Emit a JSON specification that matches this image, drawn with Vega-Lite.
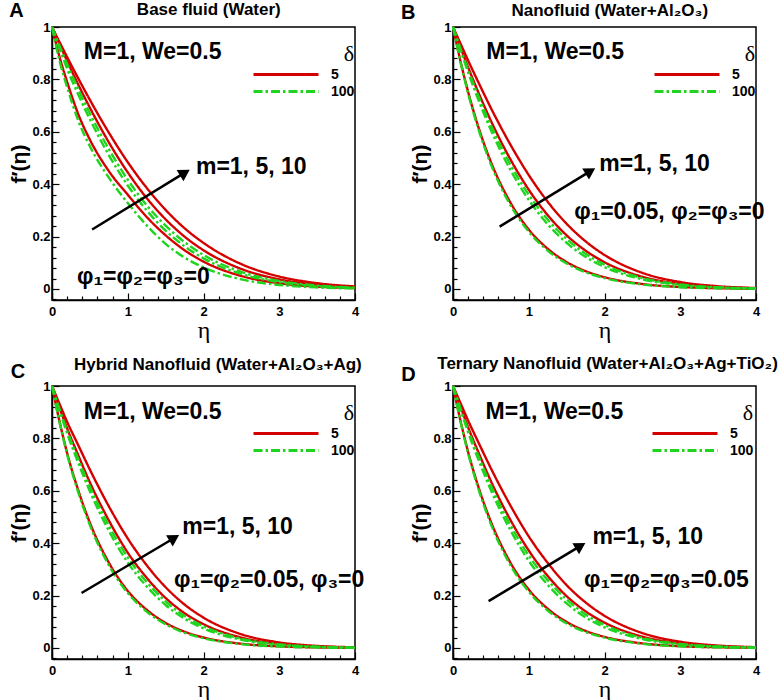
{
"$schema": "https://vega.github.io/schema/vega-lite/v6.json",
"autosize": {"type": "pad"},
"padding": {"left": 8, "top": 0, "right": 0, "bottom": 0},
"background": "white",
"config": {
  "font": "Liberation Sans",
  "view": {"stroke": "black", "strokeWidth": 1.5},
  "axis": {"labelFont": "Liberation Sans", "labelFontSize": 13, "labelFontWeight": "bold", "labelColor": "black", "domainColor": "black", "domainWidth": 1.5, "tickColor": "black", "tickWidth": 1.2, "grid": false, "titleColor": "black", "labelFlush": false},
  "text": {"font": "Liberation Sans", "fontWeight": "bold", "fontSize": 23, "color": "black"}
},
"datasets": {
"A": [
{"m":10,"delta":5,"eta":0,"f":1},{"m":10,"delta":5,"eta":0.1,"f":0.942},{"m":10,"delta":5,"eta":0.2,"f":0.885},{"m":10,"delta":5,"eta":0.35,"f":0.802},{"m":10,"delta":5,"eta":0.5,"f":0.722},{"m":10,"delta":5,"eta":0.75,"f":0.597},{"m":10,"delta":5,"eta":1,"f":0.484},{"m":10,"delta":5,"eta":1.25,"f":0.386},{"m":10,"delta":5,"eta":1.5,"f":0.302},{"m":10,"delta":5,"eta":1.75,"f":0.232},{"m":10,"delta":5,"eta":2,"f":0.176},{"m":10,"delta":5,"eta":2.5,"f":0.095},{"m":10,"delta":5,"eta":3,"f":0.0476},{"m":10,"delta":5,"eta":3.5,"f":0.0222},{"m":10,"delta":5,"eta":4,"f":0.0097},
{"m":5,"delta":5,"eta":0,"f":1},{"m":5,"delta":5,"eta":0.1,"f":0.934},{"m":5,"delta":5,"eta":0.2,"f":0.87},{"m":5,"delta":5,"eta":0.35,"f":0.778},{"m":5,"delta":5,"eta":0.5,"f":0.692},{"m":5,"delta":5,"eta":0.75,"f":0.56},{"m":5,"delta":5,"eta":1,"f":0.445},{"m":5,"delta":5,"eta":1.25,"f":0.347},{"m":5,"delta":5,"eta":1.5,"f":0.266},{"m":5,"delta":5,"eta":1.75,"f":0.2},{"m":5,"delta":5,"eta":2,"f":0.148},{"m":5,"delta":5,"eta":2.5,"f":0.0766},{"m":5,"delta":5,"eta":3,"f":0.0369},{"m":5,"delta":5,"eta":3.5,"f":0.0165},{"m":5,"delta":5,"eta":4,"f":0.0069},
{"m":1,"delta":5,"eta":0,"f":1},{"m":1,"delta":5,"eta":0.1,"f":0.885},{"m":1,"delta":5,"eta":0.2,"f":0.79},{"m":1,"delta":5,"eta":0.35,"f":0.665},{"m":1,"delta":5,"eta":0.5,"f":0.57},{"m":1,"delta":5,"eta":0.75,"f":0.45},{"m":1,"delta":5,"eta":1,"f":0.36},{"m":1,"delta":5,"eta":1.25,"f":0.275},{"m":1,"delta":5,"eta":1.5,"f":0.205},{"m":1,"delta":5,"eta":1.75,"f":0.148},{"m":1,"delta":5,"eta":2,"f":0.1046},{"m":1,"delta":5,"eta":2.5,"f":0.0496},{"m":1,"delta":5,"eta":3,"f":0.0219},{"m":1,"delta":5,"eta":3.5,"f":0.009},{"m":1,"delta":5,"eta":4,"f":0.0034},
{"m":10,"delta":100,"eta":0,"f":1},{"m":10,"delta":100,"eta":0.1,"f":0.928},{"m":10,"delta":100,"eta":0.2,"f":0.859},{"m":10,"delta":100,"eta":0.35,"f":0.761},{"m":10,"delta":100,"eta":0.5,"f":0.67},{"m":10,"delta":100,"eta":0.75,"f":0.534},{"m":10,"delta":100,"eta":1,"f":0.417},{"m":10,"delta":100,"eta":1.25,"f":0.32},{"m":10,"delta":100,"eta":1.5,"f":0.242},{"m":10,"delta":100,"eta":1.75,"f":0.179},{"m":10,"delta":100,"eta":2,"f":0.13},{"m":10,"delta":100,"eta":2.5,"f":0.0653},{"m":10,"delta":100,"eta":3,"f":0.0304},{"m":10,"delta":100,"eta":3.5,"f":0.0132},{"m":10,"delta":100,"eta":4,"f":0.0053},
{"m":5,"delta":100,"eta":0,"f":1},{"m":5,"delta":100,"eta":0.1,"f":0.918},{"m":5,"delta":100,"eta":0.2,"f":0.84},{"m":5,"delta":100,"eta":0.35,"f":0.74},{"m":5,"delta":100,"eta":0.5,"f":0.648},{"m":5,"delta":100,"eta":0.75,"f":0.511},{"m":5,"delta":100,"eta":1,"f":0.395},{"m":5,"delta":100,"eta":1.25,"f":0.3},{"m":5,"delta":100,"eta":1.5,"f":0.223},{"m":5,"delta":100,"eta":1.75,"f":0.163},{"m":5,"delta":100,"eta":2,"f":0.117},{"m":5,"delta":100,"eta":2.5,"f":0.0572},{"m":5,"delta":100,"eta":3,"f":0.026},{"m":5,"delta":100,"eta":3.5,"f":0.011},{"m":5,"delta":100,"eta":4,"f":0.0043},
{"m":1,"delta":100,"eta":0,"f":1},{"m":1,"delta":100,"eta":0.1,"f":0.87},{"m":1,"delta":100,"eta":0.2,"f":0.77},{"m":1,"delta":100,"eta":0.35,"f":0.64},{"m":1,"delta":100,"eta":0.5,"f":0.545},{"m":1,"delta":100,"eta":0.75,"f":0.425},{"m":1,"delta":100,"eta":1,"f":0.328},{"m":1,"delta":100,"eta":1.25,"f":0.243},{"m":1,"delta":100,"eta":1.5,"f":0.172},{"m":1,"delta":100,"eta":1.75,"f":0.12},{"m":1,"delta":100,"eta":2,"f":0.0824},{"m":1,"delta":100,"eta":2.5,"f":0.0368},{"m":1,"delta":100,"eta":3,"f":0.0153},{"m":1,"delta":100,"eta":3.5,"f":0.0059},{"m":1,"delta":100,"eta":4,"f":0.0021}
],
"B": [
{"m":10,"delta":5,"eta":0,"f":1},{"m":10,"delta":5,"eta":0.1,"f":0.936},{"m":10,"delta":5,"eta":0.2,"f":0.872},{"m":10,"delta":5,"eta":0.35,"f":0.78},{"m":10,"delta":5,"eta":0.5,"f":0.691},{"m":10,"delta":5,"eta":0.75,"f":0.555},{"m":10,"delta":5,"eta":1,"f":0.435},{"m":10,"delta":5,"eta":1.25,"f":0.333},{"m":10,"delta":5,"eta":1.5,"f":0.249},{"m":10,"delta":5,"eta":1.75,"f":0.182},{"m":10,"delta":5,"eta":2,"f":0.13},{"m":10,"delta":5,"eta":2.5,"f":0.0616},{"m":10,"delta":5,"eta":3,"f":0.0266},{"m":10,"delta":5,"eta":3.5,"f":0.0105},{"m":10,"delta":5,"eta":4,"f":0.0037},
{"m":5,"delta":5,"eta":0,"f":1},{"m":5,"delta":5,"eta":0.1,"f":0.922},{"m":5,"delta":5,"eta":0.2,"f":0.846},{"m":5,"delta":5,"eta":0.35,"f":0.74},{"m":5,"delta":5,"eta":0.5,"f":0.642},{"m":5,"delta":5,"eta":0.75,"f":0.499},{"m":5,"delta":5,"eta":1,"f":0.379},{"m":5,"delta":5,"eta":1.25,"f":0.282},{"m":5,"delta":5,"eta":1.5,"f":0.205},{"m":5,"delta":5,"eta":1.75,"f":0.1465},{"m":5,"delta":5,"eta":2,"f":0.1023},{"m":5,"delta":5,"eta":2.5,"f":0.0468},{"m":5,"delta":5,"eta":3,"f":0.0196},{"m":5,"delta":5,"eta":3.5,"f":0.0076},{"m":5,"delta":5,"eta":4,"f":0.0027},
{"m":1,"delta":5,"eta":0,"f":1},{"m":1,"delta":5,"eta":0.1,"f":0.868},{"m":1,"delta":5,"eta":0.2,"f":0.752},{"m":1,"delta":5,"eta":0.35,"f":0.605},{"m":1,"delta":5,"eta":0.5,"f":0.485},{"m":1,"delta":5,"eta":0.75,"f":0.334},{"m":1,"delta":5,"eta":1,"f":0.227},{"m":1,"delta":5,"eta":1.25,"f":0.1536},{"m":1,"delta":5,"eta":1.5,"f":0.1029},{"m":1,"delta":5,"eta":1.75,"f":0.0683},{"m":1,"delta":5,"eta":2,"f":0.045},{"m":1,"delta":5,"eta":2.5,"f":0.019},{"m":1,"delta":5,"eta":3,"f":0.0077},{"m":1,"delta":5,"eta":3.5,"f":0.003},{"m":1,"delta":5,"eta":4,"f":0.0012},
{"m":10,"delta":100,"eta":0,"f":1},{"m":10,"delta":100,"eta":0.1,"f":0.916},{"m":10,"delta":100,"eta":0.2,"f":0.837},{"m":10,"delta":100,"eta":0.35,"f":0.726},{"m":10,"delta":100,"eta":0.5,"f":0.625},{"m":10,"delta":100,"eta":0.75,"f":0.479},{"m":10,"delta":100,"eta":1,"f":0.36},{"m":10,"delta":100,"eta":1.25,"f":0.265},{"m":10,"delta":100,"eta":1.5,"f":0.191},{"m":10,"delta":100,"eta":1.75,"f":0.1346},{"m":10,"delta":100,"eta":2,"f":0.0931},{"m":10,"delta":100,"eta":2.5,"f":0.0418},{"m":10,"delta":100,"eta":3,"f":0.0173},{"m":10,"delta":100,"eta":3.5,"f":0.0066},{"m":10,"delta":100,"eta":4,"f":0.0023},
{"m":5,"delta":100,"eta":0,"f":1},{"m":5,"delta":100,"eta":0.1,"f":0.911},{"m":5,"delta":100,"eta":0.2,"f":0.827},{"m":5,"delta":100,"eta":0.35,"f":0.711},{"m":5,"delta":100,"eta":0.5,"f":0.607},{"m":5,"delta":100,"eta":0.75,"f":0.459},{"m":5,"delta":100,"eta":1,"f":0.34},{"m":5,"delta":100,"eta":1.25,"f":0.247},{"m":5,"delta":100,"eta":1.5,"f":0.176},{"m":5,"delta":100,"eta":1.75,"f":0.1227},{"m":5,"delta":100,"eta":2,"f":0.0839},{"m":5,"delta":100,"eta":2.5,"f":0.037},{"m":5,"delta":100,"eta":3,"f":0.015},{"m":5,"delta":100,"eta":3.5,"f":0.0056},{"m":5,"delta":100,"eta":4,"f":0.002},
{"m":1,"delta":100,"eta":0,"f":1},{"m":1,"delta":100,"eta":0.1,"f":0.865},{"m":1,"delta":100,"eta":0.2,"f":0.746},{"m":1,"delta":100,"eta":0.35,"f":0.597},{"m":1,"delta":100,"eta":0.5,"f":0.476},{"m":1,"delta":100,"eta":0.75,"f":0.324},{"m":1,"delta":100,"eta":1,"f":0.219},{"m":1,"delta":100,"eta":1.25,"f":0.1465},{"m":1,"delta":100,"eta":1.5,"f":0.0972},{"m":1,"delta":100,"eta":1.75,"f":0.0639},{"m":1,"delta":100,"eta":2,"f":0.0417},{"m":1,"delta":100,"eta":2.5,"f":0.0173},{"m":1,"delta":100,"eta":3,"f":0.0069},{"m":1,"delta":100,"eta":3.5,"f":0.0027},{"m":1,"delta":100,"eta":4,"f":0.001}
],
"C": [
{"m":10,"delta":5,"eta":0,"f":1},{"m":10,"delta":5,"eta":0.1,"f":0.931},{"m":10,"delta":5,"eta":0.2,"f":0.863},{"m":10,"delta":5,"eta":0.35,"f":0.772},{"m":10,"delta":5,"eta":0.5,"f":0.681},{"m":10,"delta":5,"eta":0.75,"f":0.541},{"m":10,"delta":5,"eta":1,"f":0.418},{"m":10,"delta":5,"eta":1.25,"f":0.316},{"m":10,"delta":5,"eta":1.5,"f":0.232},{"m":10,"delta":5,"eta":1.75,"f":0.166},{"m":10,"delta":5,"eta":2,"f":0.116},{"m":10,"delta":5,"eta":2.5,"f":0.0524},{"m":10,"delta":5,"eta":3,"f":0.0213},{"m":10,"delta":5,"eta":3.5,"f":0.0079},{"m":10,"delta":5,"eta":4,"f":0.0026},
{"m":5,"delta":5,"eta":0,"f":1},{"m":5,"delta":5,"eta":0.1,"f":0.917},{"m":5,"delta":5,"eta":0.2,"f":0.838},{"m":5,"delta":5,"eta":0.35,"f":0.733},{"m":5,"delta":5,"eta":0.5,"f":0.632},{"m":5,"delta":5,"eta":0.75,"f":0.487},{"m":5,"delta":5,"eta":1,"f":0.364},{"m":5,"delta":5,"eta":1.25,"f":0.268},{"m":5,"delta":5,"eta":1.5,"f":0.191},{"m":5,"delta":5,"eta":1.75,"f":0.133},{"m":5,"delta":5,"eta":2,"f":0.091},{"m":5,"delta":5,"eta":2.5,"f":0.0398},{"m":5,"delta":5,"eta":3,"f":0.0157},{"m":5,"delta":5,"eta":3.5,"f":0.0057},{"m":5,"delta":5,"eta":4,"f":0.0019},
{"m":1,"delta":5,"eta":0,"f":1},{"m":1,"delta":5,"eta":0.1,"f":0.864},{"m":1,"delta":5,"eta":0.2,"f":0.744},{"m":1,"delta":5,"eta":0.35,"f":0.599},{"m":1,"delta":5,"eta":0.5,"f":0.478},{"m":1,"delta":5,"eta":0.75,"f":0.326},{"m":1,"delta":5,"eta":1,"f":0.218},{"m":1,"delta":5,"eta":1.25,"f":0.146},{"m":1,"delta":5,"eta":1.5,"f":0.0957},{"m":1,"delta":5,"eta":1.75,"f":0.0622},{"m":1,"delta":5,"eta":2,"f":0.0401},{"m":1,"delta":5,"eta":2.5,"f":0.0162},{"m":1,"delta":5,"eta":3,"f":0.0062},{"m":1,"delta":5,"eta":3.5,"f":0.0023},{"m":1,"delta":5,"eta":4,"f":0.0008},
{"m":10,"delta":100,"eta":0,"f":1},{"m":10,"delta":100,"eta":0.1,"f":0.911},{"m":10,"delta":100,"eta":0.2,"f":0.829},{"m":10,"delta":100,"eta":0.35,"f":0.719},{"m":10,"delta":100,"eta":0.5,"f":0.616},{"m":10,"delta":100,"eta":0.75,"f":0.467},{"m":10,"delta":100,"eta":1,"f":0.346},{"m":10,"delta":100,"eta":1.25,"f":0.252},{"m":10,"delta":100,"eta":1.5,"f":0.178},{"m":10,"delta":100,"eta":1.75,"f":0.122},{"m":10,"delta":100,"eta":2,"f":0.083},{"m":10,"delta":100,"eta":2.5,"f":0.0355},{"m":10,"delta":100,"eta":3,"f":0.0138},{"m":10,"delta":100,"eta":3.5,"f":0.005},{"m":10,"delta":100,"eta":4,"f":0.0016},
{"m":5,"delta":100,"eta":0,"f":1},{"m":5,"delta":100,"eta":0.1,"f":0.906},{"m":5,"delta":100,"eta":0.2,"f":0.819},{"m":5,"delta":100,"eta":0.35,"f":0.704},{"m":5,"delta":100,"eta":0.5,"f":0.598},{"m":5,"delta":100,"eta":0.75,"f":0.448},{"m":5,"delta":100,"eta":1,"f":0.326},{"m":5,"delta":100,"eta":1.25,"f":0.235},{"m":5,"delta":100,"eta":1.5,"f":0.164},{"m":5,"delta":100,"eta":1.75,"f":0.112},{"m":5,"delta":100,"eta":2,"f":0.075},{"m":5,"delta":100,"eta":2.5,"f":0.0315},{"m":5,"delta":100,"eta":3,"f":0.012},{"m":5,"delta":100,"eta":3.5,"f":0.0042},{"m":5,"delta":100,"eta":4,"f":0.0014},
{"m":1,"delta":100,"eta":0,"f":1},{"m":1,"delta":100,"eta":0.1,"f":0.861},{"m":1,"delta":100,"eta":0.2,"f":0.739},{"m":1,"delta":100,"eta":0.35,"f":0.591},{"m":1,"delta":100,"eta":0.5,"f":0.469},{"m":1,"delta":100,"eta":0.75,"f":0.316},{"m":1,"delta":100,"eta":1,"f":0.21},{"m":1,"delta":100,"eta":1.25,"f":0.139},{"m":1,"delta":100,"eta":1.5,"f":0.0904},{"m":1,"delta":100,"eta":1.75,"f":0.0581},{"m":1,"delta":100,"eta":2,"f":0.0371},{"m":1,"delta":100,"eta":2.5,"f":0.0147},{"m":1,"delta":100,"eta":3,"f":0.0055},{"m":1,"delta":100,"eta":3.5,"f":0.002},{"m":1,"delta":100,"eta":4,"f":0.0007}
],
"D": [
{"m":10,"delta":5,"eta":0,"f":1},{"m":10,"delta":5,"eta":0.1,"f":0.934},{"m":10,"delta":5,"eta":0.2,"f":0.868},{"m":10,"delta":5,"eta":0.35,"f":0.776},{"m":10,"delta":5,"eta":0.5,"f":0.686},{"m":10,"delta":5,"eta":0.75,"f":0.548},{"m":10,"delta":5,"eta":1,"f":0.426},{"m":10,"delta":5,"eta":1.25,"f":0.325},{"m":10,"delta":5,"eta":1.5,"f":0.24},{"m":10,"delta":5,"eta":1.75,"f":0.174},{"m":10,"delta":5,"eta":2,"f":0.123},{"m":10,"delta":5,"eta":2.5,"f":0.057},{"m":10,"delta":5,"eta":3,"f":0.024},{"m":10,"delta":5,"eta":3.5,"f":0.0092},{"m":10,"delta":5,"eta":4,"f":0.0031},
{"m":5,"delta":5,"eta":0,"f":1},{"m":5,"delta":5,"eta":0.1,"f":0.92},{"m":5,"delta":5,"eta":0.2,"f":0.842},{"m":5,"delta":5,"eta":0.35,"f":0.737},{"m":5,"delta":5,"eta":0.5,"f":0.637},{"m":5,"delta":5,"eta":0.75,"f":0.493},{"m":5,"delta":5,"eta":1,"f":0.372},{"m":5,"delta":5,"eta":1.25,"f":0.275},{"m":5,"delta":5,"eta":1.5,"f":0.198},{"m":5,"delta":5,"eta":1.75,"f":0.14},{"m":5,"delta":5,"eta":2,"f":0.097},{"m":5,"delta":5,"eta":2.5,"f":0.0433},{"m":5,"delta":5,"eta":3,"f":0.0177},{"m":5,"delta":5,"eta":3.5,"f":0.0066},{"m":5,"delta":5,"eta":4,"f":0.0023},
{"m":1,"delta":5,"eta":0,"f":1},{"m":1,"delta":5,"eta":0.1,"f":0.866},{"m":1,"delta":5,"eta":0.2,"f":0.748},{"m":1,"delta":5,"eta":0.35,"f":0.602},{"m":1,"delta":5,"eta":0.5,"f":0.482},{"m":1,"delta":5,"eta":0.75,"f":0.33},{"m":1,"delta":5,"eta":1,"f":0.223},{"m":1,"delta":5,"eta":1.25,"f":0.15},{"m":1,"delta":5,"eta":1.5,"f":0.0993},{"m":1,"delta":5,"eta":1.75,"f":0.0653},{"m":1,"delta":5,"eta":2,"f":0.0426},{"m":1,"delta":5,"eta":2.5,"f":0.0176},{"m":1,"delta":5,"eta":3,"f":0.007},{"m":1,"delta":5,"eta":3.5,"f":0.0027},{"m":1,"delta":5,"eta":4,"f":0.001},
{"m":10,"delta":100,"eta":0,"f":1},{"m":10,"delta":100,"eta":0.1,"f":0.914},{"m":10,"delta":100,"eta":0.2,"f":0.833},{"m":10,"delta":100,"eta":0.35,"f":0.723},{"m":10,"delta":100,"eta":0.5,"f":0.621},{"m":10,"delta":100,"eta":0.75,"f":0.473},{"m":10,"delta":100,"eta":1,"f":0.353},{"m":10,"delta":100,"eta":1.25,"f":0.259},{"m":10,"delta":100,"eta":1.5,"f":0.185},{"m":10,"delta":100,"eta":1.75,"f":0.128},{"m":10,"delta":100,"eta":2,"f":0.088},{"m":10,"delta":100,"eta":2.5,"f":0.0387},{"m":10,"delta":100,"eta":3,"f":0.0156},{"m":10,"delta":100,"eta":3.5,"f":0.0058},{"m":10,"delta":100,"eta":4,"f":0.002},
{"m":5,"delta":100,"eta":0,"f":1},{"m":5,"delta":100,"eta":0.1,"f":0.909},{"m":5,"delta":100,"eta":0.2,"f":0.823},{"m":5,"delta":100,"eta":0.35,"f":0.708},{"m":5,"delta":100,"eta":0.5,"f":0.603},{"m":5,"delta":100,"eta":0.75,"f":0.454},{"m":5,"delta":100,"eta":1,"f":0.333},{"m":5,"delta":100,"eta":1.25,"f":0.241},{"m":5,"delta":100,"eta":1.5,"f":0.17},{"m":5,"delta":100,"eta":1.75,"f":0.117},{"m":5,"delta":100,"eta":2,"f":0.079},{"m":5,"delta":100,"eta":2.5,"f":0.0343},{"m":5,"delta":100,"eta":3,"f":0.0135},{"m":5,"delta":100,"eta":3.5,"f":0.0049},{"m":5,"delta":100,"eta":4,"f":0.0017},
{"m":1,"delta":100,"eta":0,"f":1},{"m":1,"delta":100,"eta":0.1,"f":0.863},{"m":1,"delta":100,"eta":0.2,"f":0.743},{"m":1,"delta":100,"eta":0.35,"f":0.594},{"m":1,"delta":100,"eta":0.5,"f":0.473},{"m":1,"delta":100,"eta":0.75,"f":0.32},{"m":1,"delta":100,"eta":1,"f":0.215},{"m":1,"delta":100,"eta":1.25,"f":0.143},{"m":1,"delta":100,"eta":1.5,"f":0.0938},{"m":1,"delta":100,"eta":1.75,"f":0.061},{"m":1,"delta":100,"eta":2,"f":0.0394},{"m":1,"delta":100,"eta":2.5,"f":0.016},{"m":1,"delta":100,"eta":3,"f":0.0062},{"m":1,"delta":100,"eta":3.5,"f":0.0024},{"m":1,"delta":100,"eta":4,"f":0.0009}
]
},
"columns": 2,
"spacing": {"row": 86, "column": 98},
"bounds": "flush",
"resolve": {"scale": {"color": "independent", "strokeDash": "independent"}},
"concat": [
{"width": 303, "height": 273, "data": {"name": "A"},
 "resolve": {"axis": {"x": "independent", "y": "independent"}},
 "layer": [
  {"transform": [{"filter": "datum.delta == 5"}], "mark": {"type": "line", "strokeWidth": 2.4, "interpolate": "monotone"},
   "encoding": {
    "x": {"field": "eta", "type": "quantitative", "scale": {"domain": [0, 4], "nice": false, "zero": false}, "axis": {"orient": "bottom", "title": "η", "values": [0,1,2,3,4], "format": "d", "tickSize": -7, "labelPadding": 12, "titleFont": "Liberation Serif", "titleFontSize": 24, "titleFontWeight": "normal", "titlePadding": 0}},
    "y": {"field": "f", "type": "quantitative", "scale": {"domain": [-0.042, 1], "nice": false, "zero": false}, "axis": {"orient": "left", "title": "f′(η)", "values": [0,0.2,0.4,0.6,0.8,1], "format": ".1~f", "tickSize": -7, "labelPadding": 9, "titleFont": "Liberation Sans", "titleFontSize": 21, "titleFontWeight": "bold", "titlePadding": 2}},
    "color": {"field": "delta", "type": "nominal", "scale": {"domain": [5, 100], "range": ["#d40000", "#1ed41e"]}, "legend": {"title": "δ", "orient": "none", "legendX": 200, "legendY": 17, "symbolType": "stroke", "symbolSize": 4225, "symbolStrokeWidth": 3, "clipHeight": 17, "rowPadding": 0, "labelOffset": 11, "labelFont": "Liberation Sans", "labelFontSize": 14, "labelFontWeight": "bold", "labelColor": "black", "titleFont": "Liberation Serif", "titleFontSize": 22, "titleFontWeight": "normal", "titleColor": "black", "titleAnchor": "end", "titlePadding": 0, "padding": 0}},
    "strokeDash": {"field": "delta", "type": "nominal", "scale": {"domain": [5, 100], "range": [[1, 0], [9, 3, 2.5, 3]]}, "legend": {"title": "δ", "orient": "none", "legendX": 200, "legendY": 17, "symbolType": "stroke", "symbolSize": 4225, "symbolStrokeWidth": 3, "clipHeight": 17, "rowPadding": 0, "labelOffset": 11, "labelFont": "Liberation Sans", "labelFontSize": 14, "labelFontWeight": "bold", "labelColor": "black", "titleFont": "Liberation Serif", "titleFontSize": 22, "titleFontWeight": "normal", "titleColor": "black", "titleAnchor": "end", "titlePadding": 0, "padding": 0}},
    "detail": {"field": "m", "type": "nominal"}
   }},
  {"transform": [{"filter": "datum.delta == 100"}], "mark": {"type": "line", "strokeWidth": 2.4, "interpolate": "monotone"},
   "encoding": {
    "x": {"field": "eta", "type": "quantitative", "axis": {"orient": "bottom", "title": null, "labels": false, "domain": false, "values": [0.2,0.4,0.6,0.8,1.2,1.4,1.6,1.8,2.2,2.4,2.6,2.8,3.2,3.4,3.6,3.8], "tickSize": -4}},
    "y": {"field": "f", "type": "quantitative", "axis": {"orient": "left", "title": null, "labels": false, "domain": false, "values": [-0.04,0.04,0.08,0.12,0.16,0.24,0.28,0.32,0.36,0.44,0.48,0.52,0.56,0.64,0.68,0.72,0.76,0.84,0.88,0.92,0.96], "tickSize": -4}},
    "color": {"field": "delta", "type": "nominal"},
    "strokeDash": {"field": "delta", "type": "nominal"},
    "detail": {"field": "m", "type": "nominal"}
   }},
  {"data": {"values": [{}]}, "mark": {"type": "rule", "strokeWidth": 2.5, "color": "black"}, "encoding": {"x": {"datum": 0.53, "axis": null}, "y": {"datum": 0.227, "axis": null}, "x2": {"datum": 1.754}, "y2": {"datum": 0.444}}},
  {"data": {"values": [{}]}, "mark": {"type": "point", "shape": "triangle-right", "filled": true, "color": "black", "opacity": 1, "size": 170, "angle": 328.5}, "encoding": {"x": {"datum": 1.754, "axis": null}, "y": {"datum": 0.444, "axis": null}}},
  {"data": {"values": [{}]}, "mark": {"type": "text", "text": "M=1, We=0.5", "align": "left", "baseline": "middle"}, "encoding": {"x": {"datum": 0.42, "axis": null}, "y": {"datum": 0.905, "axis": null}}},
  {"data": {"values": [{}]}, "mark": {"type": "text", "text": "m=1, 5, 10", "align": "left", "baseline": "middle"}, "encoding": {"x": {"datum": 1.9, "axis": null}, "y": {"datum": 0.466, "axis": null}}},
  {"data": {"values": [{}]}, "mark": {"type": "text", "text": "φ₁=φ₂=φ₃=0", "align": "left", "baseline": "middle"}, "encoding": {"x": {"datum": 0.33, "axis": null}, "y": {"datum": 0.046, "axis": null}}},
  {"data": {"values": [{}]}, "mark": {"type": "text", "text": "A", "fontSize": 20, "align": "center", "baseline": "middle"}, "encoding": {"x": {"datum": -0.469, "axis": null}, "y": {"datum": 1.061, "axis": null}}},
  {"data": {"values": [{}]}, "mark": {"type": "text", "text": "Base fluid (Water)", "fontSize": 17, "align": "center", "baseline": "middle"}, "encoding": {"x": {"datum": 2.07, "axis": null}, "y": {"datum": 1.065, "axis": null}}}
 ]},
{"width": 303, "height": 273, "data": {"name": "B"},
 "resolve": {"axis": {"x": "independent", "y": "independent"}},
 "layer": [
  {"transform": [{"filter": "datum.delta == 5"}], "mark": {"type": "line", "strokeWidth": 2.4, "interpolate": "monotone"},
   "encoding": {
    "x": {"field": "eta", "type": "quantitative", "scale": {"domain": [0, 4], "nice": false, "zero": false}, "axis": {"orient": "bottom", "title": "η", "values": [0,1,2,3,4], "format": "d", "tickSize": -7, "labelPadding": 12, "titleFont": "Liberation Serif", "titleFontSize": 24, "titleFontWeight": "normal", "titlePadding": 0}},
    "y": {"field": "f", "type": "quantitative", "scale": {"domain": [-0.042, 1], "nice": false, "zero": false}, "axis": {"orient": "left", "title": "f′(η)", "values": [0,0.2,0.4,0.6,0.8,1], "format": ".1~f", "tickSize": -7, "labelPadding": 9, "titleFont": "Liberation Sans", "titleFontSize": 21, "titleFontWeight": "bold", "titlePadding": 2}},
    "color": {"field": "delta", "type": "nominal", "scale": {"domain": [5, 100], "range": ["#d40000", "#1ed41e"]}, "legend": {"title": "δ", "orient": "none", "legendX": 200, "legendY": 17, "symbolType": "stroke", "symbolSize": 4225, "symbolStrokeWidth": 3, "clipHeight": 17, "rowPadding": 0, "labelOffset": 11, "labelFont": "Liberation Sans", "labelFontSize": 14, "labelFontWeight": "bold", "labelColor": "black", "titleFont": "Liberation Serif", "titleFontSize": 22, "titleFontWeight": "normal", "titleColor": "black", "titleAnchor": "end", "titlePadding": 0, "padding": 0}},
    "strokeDash": {"field": "delta", "type": "nominal", "scale": {"domain": [5, 100], "range": [[1, 0], [9, 3, 2.5, 3]]}, "legend": {"title": "δ", "orient": "none", "legendX": 200, "legendY": 17, "symbolType": "stroke", "symbolSize": 4225, "symbolStrokeWidth": 3, "clipHeight": 17, "rowPadding": 0, "labelOffset": 11, "labelFont": "Liberation Sans", "labelFontSize": 14, "labelFontWeight": "bold", "labelColor": "black", "titleFont": "Liberation Serif", "titleFontSize": 22, "titleFontWeight": "normal", "titleColor": "black", "titleAnchor": "end", "titlePadding": 0, "padding": 0}},
    "detail": {"field": "m", "type": "nominal"}
   }},
  {"transform": [{"filter": "datum.delta == 100"}], "mark": {"type": "line", "strokeWidth": 2.4, "interpolate": "monotone"},
   "encoding": {
    "x": {"field": "eta", "type": "quantitative", "axis": {"orient": "bottom", "title": null, "labels": false, "domain": false, "values": [0.2,0.4,0.6,0.8,1.2,1.4,1.6,1.8,2.2,2.4,2.6,2.8,3.2,3.4,3.6,3.8], "tickSize": -4}},
    "y": {"field": "f", "type": "quantitative", "axis": {"orient": "left", "title": null, "labels": false, "domain": false, "values": [-0.04,0.04,0.08,0.12,0.16,0.24,0.28,0.32,0.36,0.44,0.48,0.52,0.56,0.64,0.68,0.72,0.76,0.84,0.88,0.92,0.96], "tickSize": -4}},
    "color": {"field": "delta", "type": "nominal"},
    "strokeDash": {"field": "delta", "type": "nominal"},
    "detail": {"field": "m", "type": "nominal"}
   }},
  {"data": {"values": [{}]}, "mark": {"type": "rule", "strokeWidth": 2.5, "color": "black"}, "encoding": {"x": {"datum": 0.615, "axis": null}, "y": {"datum": 0.238, "axis": null}, "x2": {"datum": 1.814}, "y2": {"datum": 0.45}}},
  {"data": {"values": [{}]}, "mark": {"type": "point", "shape": "triangle-right", "filled": true, "color": "black", "opacity": 1, "size": 170, "angle": 328.6}, "encoding": {"x": {"datum": 1.814, "axis": null}, "y": {"datum": 0.45, "axis": null}}},
  {"data": {"values": [{}]}, "mark": {"type": "text", "text": "M=1, We=0.5", "align": "left", "baseline": "middle"}, "encoding": {"x": {"datum": 0.44, "axis": null}, "y": {"datum": 0.905, "axis": null}}},
  {"data": {"values": [{}]}, "mark": {"type": "text", "text": "m=1, 5, 10", "align": "left", "baseline": "middle"}, "encoding": {"x": {"datum": 1.93, "axis": null}, "y": {"datum": 0.479, "axis": null}}},
  {"data": {"values": [{}]}, "mark": {"type": "text", "text": "φ₁=0.05, φ₂=φ₃=0", "align": "left", "baseline": "middle"}, "encoding": {"x": {"datum": 1.6, "axis": null}, "y": {"datum": 0.295, "axis": null}}},
  {"data": {"values": [{}]}, "mark": {"type": "text", "text": "B", "fontSize": 20, "align": "center", "baseline": "middle"}, "encoding": {"x": {"datum": -0.592, "axis": null}, "y": {"datum": 1.055, "axis": null}}},
  {"data": {"values": [{}]}, "mark": {"type": "text", "text": "Nanofluid (Water+Al₂O₃)", "fontSize": 17, "align": "center", "baseline": "middle"}, "encoding": {"x": {"datum": 2.07, "axis": null}, "y": {"datum": 1.061, "axis": null}}}
 ]},
{"width": 303, "height": 273, "data": {"name": "C"},
 "resolve": {"axis": {"x": "independent", "y": "independent"}},
 "layer": [
  {"transform": [{"filter": "datum.delta == 5"}], "mark": {"type": "line", "strokeWidth": 2.4, "interpolate": "monotone"},
   "encoding": {
    "x": {"field": "eta", "type": "quantitative", "scale": {"domain": [0, 4], "nice": false, "zero": false}, "axis": {"orient": "bottom", "title": "η", "values": [0,1,2,3,4], "format": "d", "tickSize": -7, "labelPadding": 12, "titleFont": "Liberation Serif", "titleFontSize": 24, "titleFontWeight": "normal", "titlePadding": 0}},
    "y": {"field": "f", "type": "quantitative", "scale": {"domain": [-0.042, 1], "nice": false, "zero": false}, "axis": {"orient": "left", "title": "f′(η)", "values": [0,0.2,0.4,0.6,0.8,1], "format": ".1~f", "tickSize": -7, "labelPadding": 9, "titleFont": "Liberation Sans", "titleFontSize": 21, "titleFontWeight": "bold", "titlePadding": 2}},
    "color": {"field": "delta", "type": "nominal", "scale": {"domain": [5, 100], "range": ["#d40000", "#1ed41e"]}, "legend": {"title": "δ", "orient": "none", "legendX": 200, "legendY": 17, "symbolType": "stroke", "symbolSize": 4225, "symbolStrokeWidth": 3, "clipHeight": 17, "rowPadding": 0, "labelOffset": 11, "labelFont": "Liberation Sans", "labelFontSize": 14, "labelFontWeight": "bold", "labelColor": "black", "titleFont": "Liberation Serif", "titleFontSize": 22, "titleFontWeight": "normal", "titleColor": "black", "titleAnchor": "end", "titlePadding": 0, "padding": 0}},
    "strokeDash": {"field": "delta", "type": "nominal", "scale": {"domain": [5, 100], "range": [[1, 0], [9, 3, 2.5, 3]]}, "legend": {"title": "δ", "orient": "none", "legendX": 200, "legendY": 17, "symbolType": "stroke", "symbolSize": 4225, "symbolStrokeWidth": 3, "clipHeight": 17, "rowPadding": 0, "labelOffset": 11, "labelFont": "Liberation Sans", "labelFontSize": 14, "labelFontWeight": "bold", "labelColor": "black", "titleFont": "Liberation Serif", "titleFontSize": 22, "titleFontWeight": "normal", "titleColor": "black", "titleAnchor": "end", "titlePadding": 0, "padding": 0}},
    "detail": {"field": "m", "type": "nominal"}
   }},
  {"transform": [{"filter": "datum.delta == 100"}], "mark": {"type": "line", "strokeWidth": 2.4, "interpolate": "monotone"},
   "encoding": {
    "x": {"field": "eta", "type": "quantitative", "axis": {"orient": "bottom", "title": null, "labels": false, "domain": false, "values": [0.2,0.4,0.6,0.8,1.2,1.4,1.6,1.8,2.2,2.4,2.6,2.8,3.2,3.4,3.6,3.8], "tickSize": -4}},
    "y": {"field": "f", "type": "quantitative", "axis": {"orient": "left", "title": null, "labels": false, "domain": false, "values": [-0.04,0.04,0.08,0.12,0.16,0.24,0.28,0.32,0.36,0.44,0.48,0.52,0.56,0.64,0.68,0.72,0.76,0.84,0.88,0.92,0.96], "tickSize": -4}},
    "color": {"field": "delta", "type": "nominal"},
    "strokeDash": {"field": "delta", "type": "nominal"},
    "detail": {"field": "m", "type": "nominal"}
   }},
  {"data": {"values": [{}]}, "mark": {"type": "rule", "strokeWidth": 2.5, "color": "black"}, "encoding": {"x": {"datum": 0.39, "axis": null}, "y": {"datum": 0.21, "axis": null}, "x2": {"datum": 1.614}, "y2": {"datum": 0.42}}},
  {"data": {"values": [{}]}, "mark": {"type": "point", "shape": "triangle-right", "filled": true, "color": "black", "opacity": 1, "size": 170, "angle": 329.3}, "encoding": {"x": {"datum": 1.614, "axis": null}, "y": {"datum": 0.42, "axis": null}}},
  {"data": {"values": [{}]}, "mark": {"type": "text", "text": "M=1, We=0.5", "align": "left", "baseline": "middle"}, "encoding": {"x": {"datum": 0.42, "axis": null}, "y": {"datum": 0.902, "axis": null}}},
  {"data": {"values": [{}]}, "mark": {"type": "text", "text": "m=1, 5, 10", "align": "left", "baseline": "middle"}, "encoding": {"x": {"datum": 1.72, "axis": null}, "y": {"datum": 0.462, "axis": null}}},
  {"data": {"values": [{}]}, "mark": {"type": "text", "text": "φ₁=φ₂=0.05, φ₃=0", "align": "left", "baseline": "middle"}, "encoding": {"x": {"datum": 1.61, "axis": null}, "y": {"datum": 0.259, "axis": null}}},
  {"data": {"values": [{}]}, "mark": {"type": "text", "text": "C", "fontSize": 20, "align": "center", "baseline": "middle"}, "encoding": {"x": {"datum": -0.449, "axis": null}, "y": {"datum": 1.055, "axis": null}}},
  {"data": {"values": [{}]}, "mark": {"type": "text", "text": "Hybrid Nanofluid (Water+Al₂O₃+Ag)", "fontSize": 17, "align": "center", "baseline": "middle"}, "encoding": {"x": {"datum": 2.19, "axis": null}, "y": {"datum": 1.08, "axis": null}}}
 ]},
{"width": 303, "height": 273, "data": {"name": "D"},
 "resolve": {"axis": {"x": "independent", "y": "independent"}},
 "layer": [
  {"transform": [{"filter": "datum.delta == 5"}], "mark": {"type": "line", "strokeWidth": 2.4, "interpolate": "monotone"},
   "encoding": {
    "x": {"field": "eta", "type": "quantitative", "scale": {"domain": [0, 4], "nice": false, "zero": false}, "axis": {"orient": "bottom", "title": "η", "values": [0,1,2,3,4], "format": "d", "tickSize": -7, "labelPadding": 12, "titleFont": "Liberation Serif", "titleFontSize": 24, "titleFontWeight": "normal", "titlePadding": 0}},
    "y": {"field": "f", "type": "quantitative", "scale": {"domain": [-0.042, 1], "nice": false, "zero": false}, "axis": {"orient": "left", "title": "f′(η)", "values": [0,0.2,0.4,0.6,0.8,1], "format": ".1~f", "tickSize": -7, "labelPadding": 9, "titleFont": "Liberation Sans", "titleFontSize": 21, "titleFontWeight": "bold", "titlePadding": 2}},
    "color": {"field": "delta", "type": "nominal", "scale": {"domain": [5, 100], "range": ["#d40000", "#1ed41e"]}, "legend": {"title": "δ", "orient": "none", "legendX": 198, "legendY": 17, "symbolType": "stroke", "symbolSize": 4225, "symbolStrokeWidth": 3, "clipHeight": 17, "rowPadding": 0, "labelOffset": 11, "labelFont": "Liberation Sans", "labelFontSize": 14, "labelFontWeight": "bold", "labelColor": "black", "titleFont": "Liberation Serif", "titleFontSize": 22, "titleFontWeight": "normal", "titleColor": "black", "titleAnchor": "end", "titlePadding": 0, "padding": 0}},
    "strokeDash": {"field": "delta", "type": "nominal", "scale": {"domain": [5, 100], "range": [[1, 0], [9, 3, 2.5, 3]]}, "legend": {"title": "δ", "orient": "none", "legendX": 198, "legendY": 17, "symbolType": "stroke", "symbolSize": 4225, "symbolStrokeWidth": 3, "clipHeight": 17, "rowPadding": 0, "labelOffset": 11, "labelFont": "Liberation Sans", "labelFontSize": 14, "labelFontWeight": "bold", "labelColor": "black", "titleFont": "Liberation Serif", "titleFontSize": 22, "titleFontWeight": "normal", "titleColor": "black", "titleAnchor": "end", "titlePadding": 0, "padding": 0}},
    "detail": {"field": "m", "type": "nominal"}
   }},
  {"transform": [{"filter": "datum.delta == 100"}], "mark": {"type": "line", "strokeWidth": 2.4, "interpolate": "monotone"},
   "encoding": {
    "x": {"field": "eta", "type": "quantitative", "axis": {"orient": "bottom", "title": null, "labels": false, "domain": false, "values": [0.2,0.4,0.6,0.8,1.2,1.4,1.6,1.8,2.2,2.4,2.6,2.8,3.2,3.4,3.6,3.8], "tickSize": -4}},
    "y": {"field": "f", "type": "quantitative", "axis": {"orient": "left", "title": null, "labels": false, "domain": false, "values": [-0.04,0.04,0.08,0.12,0.16,0.24,0.28,0.32,0.36,0.44,0.48,0.52,0.56,0.64,0.68,0.72,0.76,0.84,0.88,0.92,0.96], "tickSize": -4}},
    "color": {"field": "delta", "type": "nominal"},
    "strokeDash": {"field": "delta", "type": "nominal"},
    "detail": {"field": "m", "type": "nominal"}
   }},
  {"data": {"values": [{}]}, "mark": {"type": "rule", "strokeWidth": 2.5, "color": "black"}, "encoding": {"x": {"datum": 0.47, "axis": null}, "y": {"datum": 0.179, "axis": null}, "x2": {"datum": 1.684}, "y2": {"datum": 0.39}}},
  {"data": {"values": [{}]}, "mark": {"type": "point", "shape": "triangle-right", "filled": true, "color": "black", "opacity": 1, "size": 170, "angle": 329}, "encoding": {"x": {"datum": 1.684, "axis": null}, "y": {"datum": 0.39, "axis": null}}},
  {"data": {"values": [{}]}, "mark": {"type": "text", "text": "M=1, We=0.5", "align": "left", "baseline": "middle"}, "encoding": {"x": {"datum": 0.43, "axis": null}, "y": {"datum": 0.902, "axis": null}}},
  {"data": {"values": [{}]}, "mark": {"type": "text", "text": "m=1, 5, 10", "align": "left", "baseline": "middle"}, "encoding": {"x": {"datum": 1.84, "axis": null}, "y": {"datum": 0.424, "axis": null}}},
  {"data": {"values": [{}]}, "mark": {"type": "text", "text": "φ₁=φ₂=φ₃=0.05", "align": "left", "baseline": "middle"}, "encoding": {"x": {"datum": 1.73, "axis": null}, "y": {"datum": 0.259, "axis": null}}},
  {"data": {"values": [{}]}, "mark": {"type": "text", "text": "D", "fontSize": 20, "align": "center", "baseline": "middle"}, "encoding": {"x": {"datum": -0.587, "axis": null}, "y": {"datum": 1.042, "axis": null}}},
  {"data": {"values": [{}]}, "mark": {"type": "text", "text": "Ternary Nanofluid (Water+Al₂O₃+Ag+TiO₂)", "fontSize": 17, "align": "center", "baseline": "middle"}, "encoding": {"x": {"datum": 2.04, "axis": null}, "y": {"datum": 1.084, "axis": null}}}
 ]}
]
}
